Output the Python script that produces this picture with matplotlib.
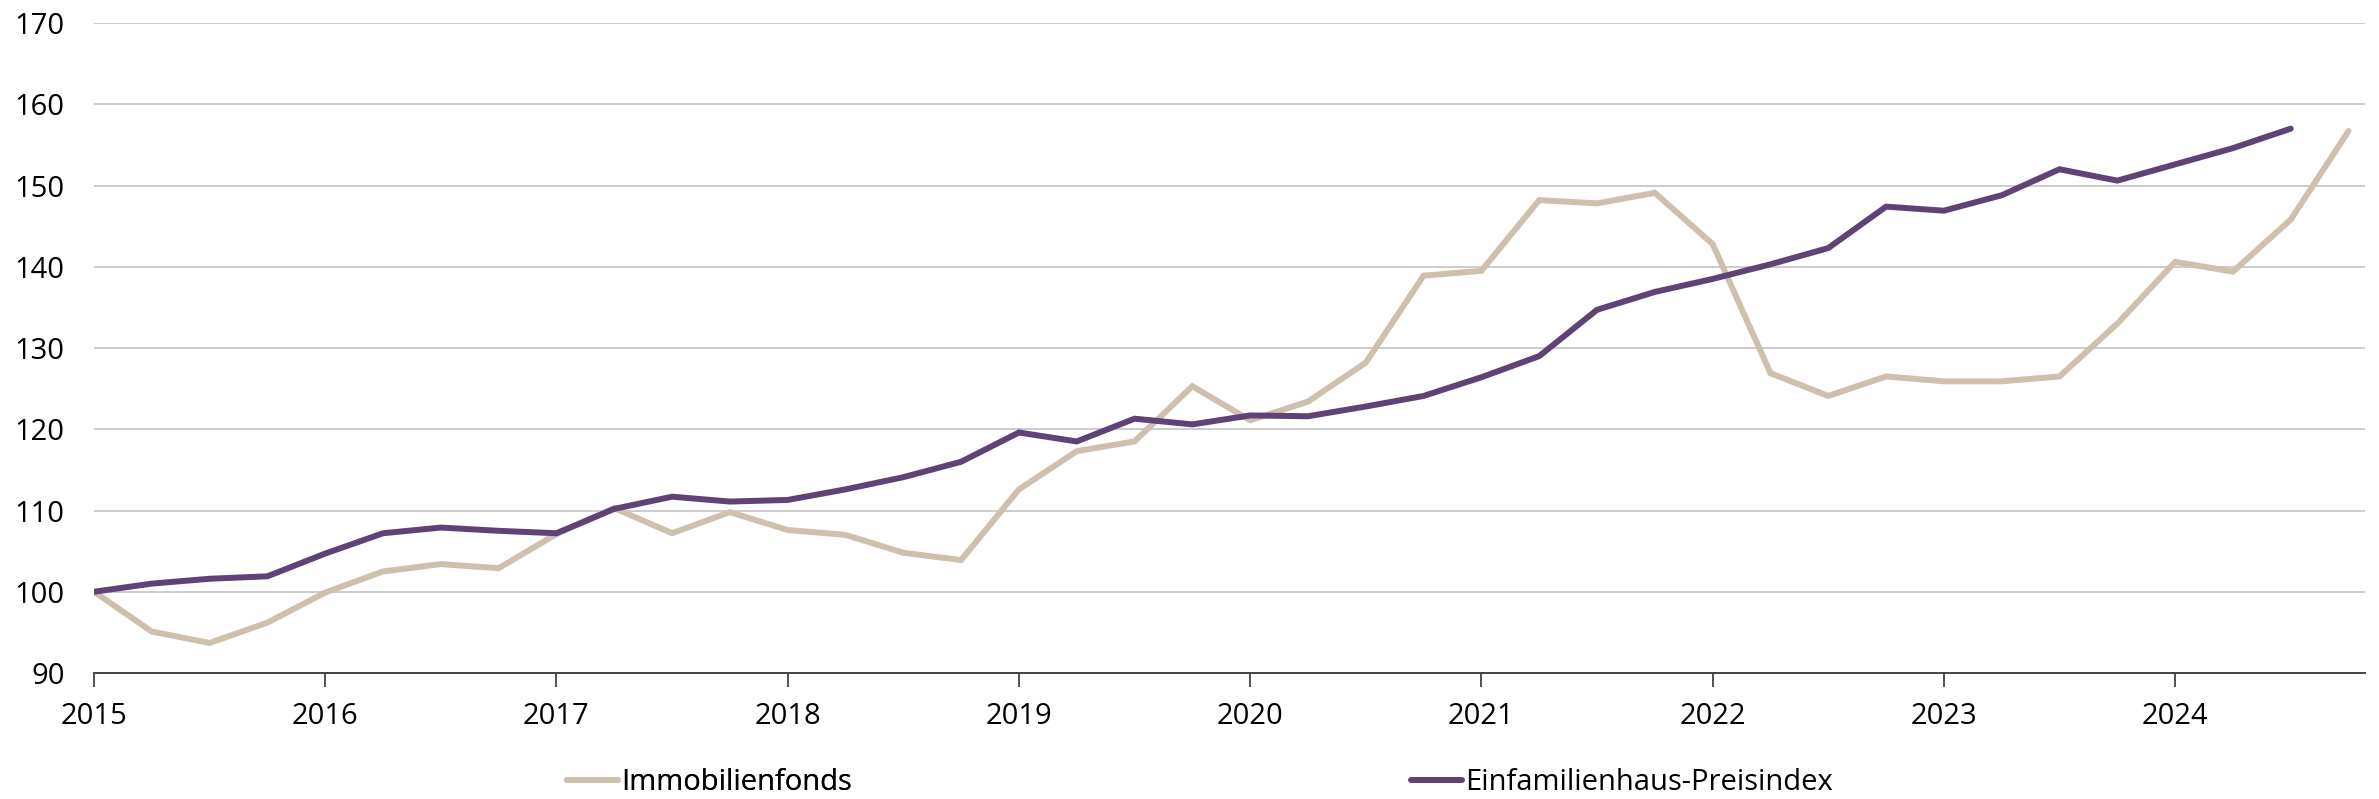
import numpy as np
import matplotlib
matplotlib.use('Agg')
import matplotlib.pyplot as plt

# quarterly index values, 2015 Q1 = 100
fonds = [100.0, 95.1, 93.7, 96.2, 99.9, 102.5, 103.4, 102.9,
         107.1, 110.3, 107.2, 109.8, 107.6, 107.0, 104.8, 103.9,
         112.6, 117.3, 118.5, 125.3, 121.1, 123.4, 128.2, 138.9,
         139.5, 148.2, 147.8, 149.1, 142.8, 126.9, 124.1, 126.5,
         125.9, 125.9, 126.5, 133.0, 140.6, 139.4, 145.8, 156.7]
haus = [100.0, 101.0, 101.6, 101.9, 104.7, 107.2, 107.9, 107.5,
        107.2, 110.2, 111.7, 111.1, 111.3, 112.6, 114.1, 116.0,
        119.6, 118.5, 121.3, 120.6, 121.7, 121.6, 122.8, 124.1,
        126.4, 129.0, 134.7, 136.9, 138.5, 140.3, 142.3, 147.4,
        146.9, 148.8, 152.0, 150.6, 152.6, 154.6, 157.0]
labels = ['Immobilienfonds', 'Einfamilienhaus-Preisindex']
years = list(range(2015, 2025))
yticks = list(range(90, 171, 10))

x_fonds = 2015 + np.arange(len(fonds)) / 4
x_haus = 2015 + np.arange(len(haus)) / 4

plt.rcParams['font.family'] = ['Open Sans', 'DejaVu Sans']

fig = plt.figure(figsize=(23.79, 7.99), dpi=100)
ax = fig.add_axes([0.0395, 0.1577, 0.9545, 0.8135])

beige = '#cfbfad'
purple = '#5f4276'
line1, = ax.plot(x_fonds, fonds, color=beige, lw=4.3, solid_joinstyle='miter',
                 solid_capstyle='round', zorder=3)
line2, = ax.plot(x_haus, haus, color=purple, lw=4.3, solid_joinstyle='miter',
                 solid_capstyle='round', zorder=4)

ax.set_xlim(2015, 2024.82)
ax.set_ylim(90, 170)
ax.set_xticks(years)
ax.set_yticks(yticks)
ax.yaxis.grid(True, color='#c8c8c8', lw=1.3)
ax.set_axisbelow(True)
for s in ['top', 'right', 'left']:
    ax.spines[s].set_visible(False)
ax.spines['bottom'].set_color('#444444')
ax.spines['bottom'].set_linewidth(1.4)
ax.tick_params(axis='y', length=0, labelsize=21, pad=21)
ax.tick_params(axis='x', length=10, width=1.3, color='#444444', labelsize=21, pad=11)

leg1 = fig.legend(handles=[line1], labels=[labels[0]], loc='center left',
                  bbox_to_anchor=(567 / 2379, 1 - 783 / 799), frameon=False,
                  fontsize=21, handlelength=1.75, handletextpad=0.12,
                  borderpad=0, borderaxespad=0)
fig.legend(handles=[line2], labels=[labels[1]], loc='center left',
           bbox_to_anchor=(1411 / 2379, 1 - 783 / 799), frameon=False,
           fontsize=21, handlelength=1.75, handletextpad=0.12,
           borderpad=0, borderaxespad=0)
fig.add_artist(leg1)

plt.savefig('out.png', dpi=100)
